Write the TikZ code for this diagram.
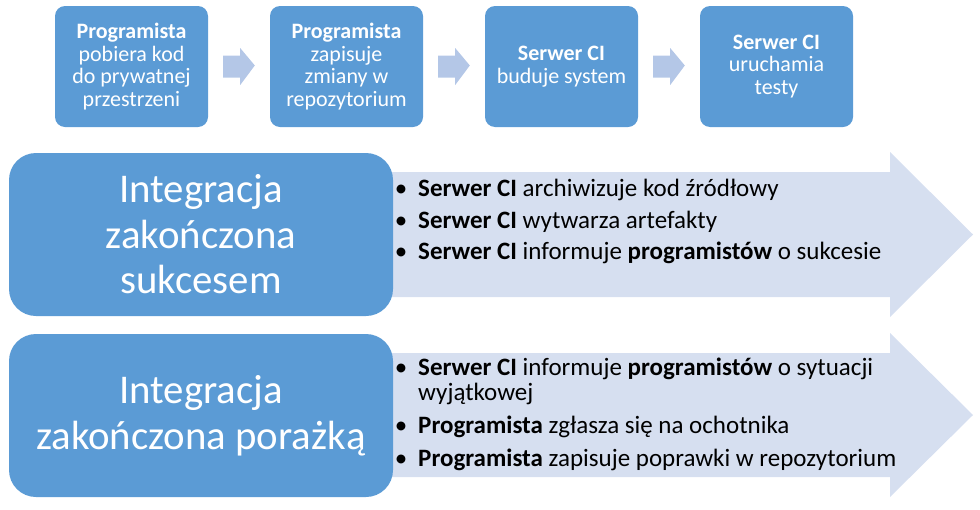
\documentclass[tikz,border=0pt]{standalone}
\usepackage{fontspec}
\setmainfont{Carlito}
\usetikzlibrary{calc}
\definecolor{boxblue}{RGB}{91,155,213}
\definecolor{lightarrow}{RGB}{214,223,240}
\definecolor{smallarrow}{RGB}{180,199,231}
\begin{document}
\begin{tikzpicture}[x=1pt,y=-1pt,
  stepbox/.style={fill=boxblue, rounded corners=10pt, minimum width=153pt, minimum height=121pt, text=white, align=center, font=\fontsize{22}{22.8}\selectfont, inner sep=0pt},
  bigbox/.style={fill=boxblue, rounded corners=27pt, minimum width=384pt, minimum height=163pt, text=white, align=center, font=\fontsize{40.8}{45.5}\selectfont, inner sep=0pt},
  bullettext/.style={anchor=base west, inner sep=0pt, font=\fontsize{25}{25.5}\selectfont, text=black},
  bulletdot/.style={anchor=base, inner sep=0pt, font=\fontsize{25}{25.5}\selectfont, text=black},
  bigarrow/.style={fill=lightarrow},
  smallarr/.style={fill=smallarrow}
]
\useasboundingbox (0,0) rectangle (980,509);

% top process boxes
\node[stepbox] (s1) at (131.5,66.5) {\textbf{Programista}\\pobiera kod\\do prywatnej\\przestrzeni};
\node[stepbox] (s2) at (346.5,66.5) {\textbf{Programista}\\zapisuje\\zmiany w\\repozytorium};
\node[stepbox] (s3) at (561.5,66.5) {\textbf{Serwer CI}\\buduje system};
\node[stepbox] (s4) at (776.5,66.5) {\textbf{Serwer CI}\\uruchamia\\testy};

% small block arrows between steps
\foreach \a/\b in {s1/s2,s2/s3,s3/s4}{
  \fill[smallarr] ($(\a.east)+(15,-11)$) -- ($(\a.east)+(32,-11)$) -- ($(\a.east)+(32,-18.5)$)
    -- ($(\b.west)+(-15,-1)$) -- ($(\a.east)+(32,18.5)$) -- ($(\a.east)+(32,11)$)
    -- ($(\a.east)+(15,11)$) -- cycle;
}

% big arrows
\fill[bigarrow] (380,172) -- (890,172) -- (890,152) -- (973,234.5) -- (890,317) -- (890,297) -- (380,297) -- cycle;
\fill[bigarrow] (380,353) -- (890,353) -- (890,333) -- (973,415) -- (890,497) -- (890,477) -- (380,477) -- cycle;

% big boxes
\node[bigbox] (ok) at (201,234.5) {Integracja\\zakończona\\sukcesem};
\node[bigbox] (fail) at (201,415.5) {Integracja\\zakończona porażką};

% bullets, success
\node[bulletdot] (d1) at (401,196) {•};
\node[bullettext] (t1) at (418,196) {\textbf{Serwer CI} archiwizuje kod źródłowy};
\node[bulletdot] (d2) at (401,228) {•};
\node[bullettext] (t2) at (418,228) {\textbf{Serwer CI} wytwarza artefakty};
\node[bulletdot] (d3) at (401,259.5) {•};
\node[bullettext] (t3) at (418,259.5) {\textbf{Serwer CI} informuje \textbf{programistów} o sukcesie};

% bullets, failure
\node[bulletdot] (e1) at (401,375) {•};
\node[bullettext] (u1) at (418,375) {\textbf{Serwer CI} informuje \textbf{programistów} o sytuacji};
\node[bullettext] (u1b) at (418,400) {wyjątkowej};
\node[bulletdot] (e2) at (401,433.5) {•};
\node[bullettext] (u2) at (418,433.5) {\textbf{Programista} zgłasza się na ochotnika};
\node[bulletdot] (e3) at (401,466.5) {•};
\node[bullettext] (u3) at (418,466.5) {\textbf{Programista} zapisuje poprawki w repozytorium};
\end{tikzpicture}
\end{document}
